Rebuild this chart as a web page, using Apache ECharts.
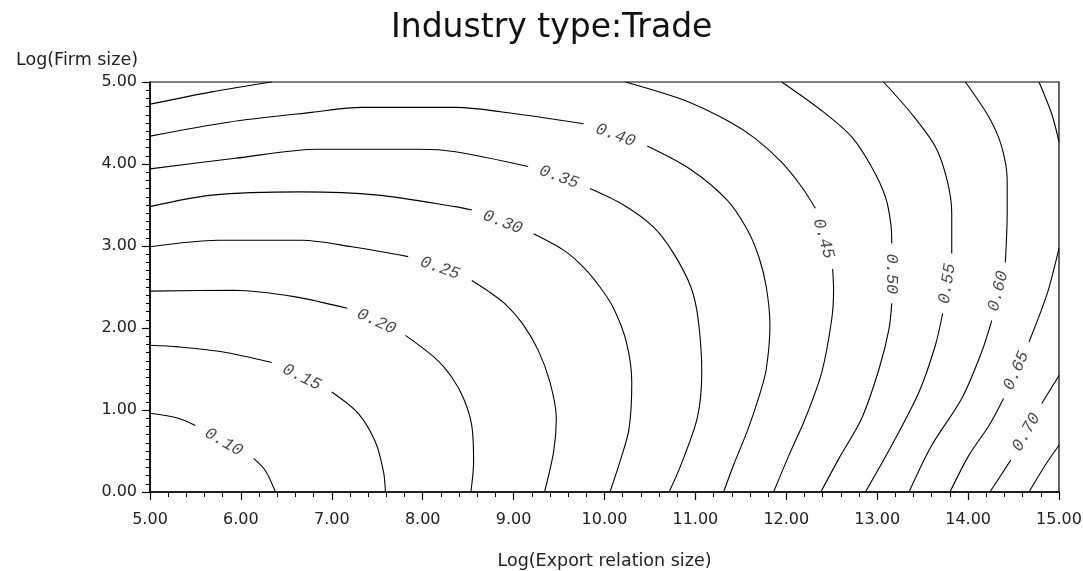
<!DOCTYPE html>
<html>
<head>
<meta charset="utf-8">
<title>Industry type:Trade</title>
<script src="https://cdn.jsdelivr.net/npm/echarts@6/dist/echarts.min.js"></script>
<style>
  html, body { margin: 0; padding: 0; background: #ffffff; }
  #chart { width: 1083px; height: 571px; }
</style>
</head>
<body>
<div id="chart"></div>
<script>
// Contour levels of the estimated share, one polyline per level.
// Points are [log(export relation size), log(firm size)]; null marks the gap left for the level label.
const levels = [0.10, 0.15, 0.20, 0.25, 0.30, 0.35, 0.40, 0.45, 0.50, 0.55, 0.60, 0.65, 0.70, 0.75];

const line010 = [[5.00,0.96],[5.31,0.90],[5.50,0.81], null, [6.14,0.41],[6.27,0.26],[6.38,0.00]];
const line015 = [[5.00,1.79],[5.31,1.77],[5.79,1.71],[6.34,1.58], null, [7.00,1.22],[7.29,0.96],[7.48,0.61],[7.57,0.24],[7.59,0.00]];
const line020 = [[5.00,2.45],[5.93,2.46],[6.60,2.38],[7.17,2.24], null, [7.81,1.91],[8.14,1.63],[8.32,1.40],[8.45,1.14],[8.54,0.81],[8.56,0.37],[8.53,0.00]];
const line025 = [[5.00,2.99],[5.75,3.07],[6.67,3.07],[7.22,2.99],[7.84,2.87], null, [8.54,2.58],[8.72,2.45],[8.92,2.28],[9.10,2.05],[9.27,1.73],[9.40,1.34],[9.47,0.90],[9.44,0.49],[9.34,0.00]];
const line030 = [[5.00,3.48],[5.68,3.62],[6.67,3.66],[7.51,3.62],[8.36,3.48],[8.54,3.44], null, [9.22,3.15],[9.55,2.95],[9.77,2.74],[9.95,2.50],[10.10,2.24],[10.24,1.83],[10.30,1.34],[10.27,0.77],[10.17,0.37],[10.06,0.00]];
const line035 = [[5.00,3.94],[5.94,4.07],[6.85,4.18],[7.95,4.18],[8.36,4.15],[9.16,3.97], null, [9.84,3.70],[10.21,3.50],[10.54,3.23],[10.76,2.91],[10.95,2.50],[11.03,2.11],[11.07,1.46],[11.02,0.90],[10.83,0.30],[10.71,0.00]];
const line040 = [[5.00,4.34],[5.86,4.51],[6.78,4.63],[7.33,4.69],[8.36,4.69],[9.04,4.61],[9.77,4.49], null, [10.47,4.22],[10.94,3.94],[11.35,3.56],[11.57,3.20],[11.70,2.86],[11.78,2.50],[11.82,2.03],[11.78,1.50],[11.71,1.20],[11.58,0.77],[11.42,0.33],[11.31,0.00]];
const line045a = [[5.00,4.73],[5.68,4.88],[6.34,5.00]];
const line045b = [[10.23,5.00],[10.87,4.78],[11.35,4.53],[11.66,4.31],[11.95,4.02],[12.17,3.72],[12.32,3.46], null, [12.51,2.72],[12.52,2.46],[12.50,2.11],[12.39,1.46],[12.21,0.90],[12.03,0.45],[11.86,0.00]];
const line050 = [[11.95,5.00],[12.39,4.65],[12.72,4.33],[12.94,3.96],[13.09,3.60],[13.15,3.27],[13.16,3.03], null, [13.16,2.30],[13.13,1.99],[13.02,1.50],[12.83,0.90],[12.58,0.41],[12.38,0.00]];
const line055 = [[13.07,5.00],[13.38,4.61],[13.64,4.21],[13.77,3.80],[13.82,3.40],[13.82,2.91], null, [13.72,2.18],[13.64,1.79],[13.46,1.22],[13.16,0.57],[12.87,0.00]];
const line060 = [[13.97,5.00],[14.23,4.57],[14.37,4.21],[14.43,3.80],[14.43,3.40],[14.41,2.80], null, [14.26,2.09],[14.15,1.71],[13.93,1.14],[13.60,0.57],[13.35,0.00]];
const line065a = [[14.78,5.00],[14.92,4.61],[15.00,4.27]];
const line065b = [[15.00,2.97],[14.89,2.49],[14.80,2.20],[14.67,1.83], null, [14.39,1.14],[14.23,0.81],[14.01,0.45],[13.80,0.00]];
const line070 = [[15.00,1.42],[14.81,1.08], null, [14.47,0.39],[14.37,0.22],[14.24,0.00]];
const line075 = [[15.00,0.57],[14.85,0.33],[14.67,0.00]];

// Where each level is written on its line: [x, y, level]
const labelPoints = [
  [5.81,0.61,0.10],[6.67,1.40,0.15],[7.49,2.08,0.20],[8.19,2.73,0.25],
  [8.88,3.29,0.30],[9.50,3.84,0.35],[10.12,4.35,0.40],[12.41,3.09,0.45],
  [13.16,2.66,0.50],[13.77,2.54,0.55],[14.33,2.45,0.60],[14.53,1.48,0.65],
  [14.64,0.73,0.70]
];
// Text direction of each level label, degrees counter-clockwise
const labelAngles = [-30, -26, -25, -20, -21, -20, -20, -74, -90, 81, 76, 66, 61];

const xTicks = [5, 6, 7, 8, 9, 10, 11, 12, 13, 14, 15];
const yTicks = [0, 1, 2, 3, 4, 5];

const contourLines = [
  [0.10, line010], [0.15, line015], [0.20, line020], [0.25, line025],
  [0.30, line030], [0.35, line035], [0.40, line040], [0.45, line045a],
  [0.45, line045b], [0.50, line050], [0.55, line055], [0.60, line060],
  [0.65, line065a], [0.65, line065b], [0.70, line070], [0.75, line075]
];

// Split each polyline at its label gap into separate line series.
const series = [];
contourLines.forEach(function (entry) {
  let seg = [];
  const flush = function () {
    if (seg.length > 1) {
      series.push({
        type: 'line',
        name: entry[0].toFixed(2),
        data: seg,
        smooth: 0.3,
        showSymbol: false,
        silent: true,
        lineStyle: { color: '#000000', width: 1.1 },
        z: 3
      });
    }
    seg = [];
  };
  entry[1].forEach(function (p) {
    if (p === null) { flush(); } else { seg.push(p); }
  });
  flush();
});

series.push({
  type: 'scatter',
  symbolSize: 0,
  silent: true,
  z: 4,
  data: labelPoints.map(function (p, i) {
    return {
      value: p,
      label: { rotate: labelAngles[i] }
    };
  }),
  label: {
    show: true,
    position: 'inside',
    formatter: function (params) { return params.value[2].toFixed(2); },
    fontFamily: 'Liberation Mono',
    fontStyle: 'italic',
    fontSize: 17,
    color: '#1a1a1a'
  }
});

const axisFont = 'DejaVu Sans';
const chart = echarts.init(document.getElementById('chart'), null, { renderer: 'canvas' });
chart.setOption({
  backgroundColor: '#ffffff',
  animation: false,
  title: {
    text: 'Industry type:Trade',
    left: 386,
    top: 7,
    textStyle: { fontFamily: axisFont, fontSize: 33, fontWeight: 'normal', color: '#111111' }
  },
  grid: {
    left: 150, right: 24, top: 82, bottom: 79,
    outerBoundsMode: 'none',
    containLabel: false,
    show: true, borderColor: '#000000', borderWidth: 1.2, backgroundColor: 'transparent'
  },
  xAxis: {
    type: 'value',
    min: xTicks[0],
    max: xTicks[xTicks.length - 1],
    interval: 1,
    name: 'Log(Export relation size)',
    nameLocation: 'middle',
    nameGap: 60,
    nameTextStyle: { fontFamily: axisFont, fontSize: 17.5, color: '#222222' },
    axisLine: { onZero: false, lineStyle: { color: '#000000', width: 1.5 } },
    axisTick: { show: true, inside: false, length: 8, lineStyle: { color: '#000000', width: 1.2 } },
    minorTick: { show: true, splitNumber: 5, length: 5, lineStyle: { color: '#000000', width: 1 } },
    axisLabel: {
      margin: 20,
      fontFamily: axisFont, fontSize: 16, color: '#222222',
      formatter: function (v) { return v.toFixed(2); }
    },
    splitLine: { show: false }
  },
  yAxis: {
    type: 'value',
    min: yTicks[0],
    max: yTicks[yTicks.length - 1],
    interval: 1,
    name: 'Log(Firm size)',
    nameLocation: 'end',
    nameGap: 13,
    nameTextStyle: { fontFamily: axisFont, fontSize: 17.5, color: '#222222', align: 'right', padding: [0, 12, 0, 0] },
    axisLine: { onZero: false, lineStyle: { color: '#000000', width: 1.5 } },
    axisTick: { show: true, inside: false, length: 8, lineStyle: { color: '#000000', width: 1.2 } },
    minorTick: { show: true, splitNumber: 10, length: 4, lineStyle: { color: '#000000', width: 1 } },
    axisLabel: {
      margin: 13,
      fontFamily: axisFont, fontSize: 16, color: '#222222',
      formatter: function (v) { return v.toFixed(2); }
    },
    splitLine: { show: false }
  },
  series: series
});
</script>
</body>
</html>
